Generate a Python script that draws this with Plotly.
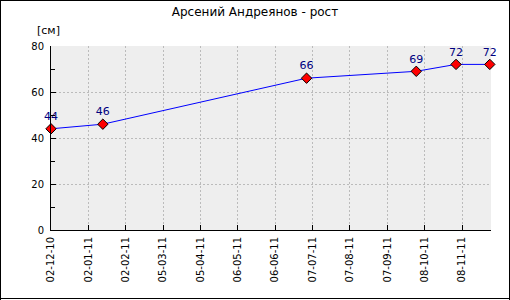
import plotly.graph_objects as go

dates = ["2010-12-02", "2011-01-14", "2011-07-02", "2011-10-01", "2011-11-03", "2011-12-01"]
heights = [44, 46, 66, 69, 72, 72]
title = "Арсений Андреянов - рост"
unit = "[см]"

W, H = 510, 300
L, R, T, B = 51, 19, 46, 70
pw, ph = W - L - R, H - T - B


def px_x(p):
    return (p - L) / pw


def px_y(p):
    return (H - B - p) / ph


fig = go.Figure()
fig.add_trace(go.Scatter(
    x=dates, y=heights, mode="lines+markers+text",
    text=[str(v) for v in heights], textposition="top center",
    textfont=dict(family="DejaVu Sans", size=11, color="#000080"),
    line=dict(color="#0000ff", width=1),
    marker=dict(symbol="diamond", size=8, color="#ff0000", line=dict(color="#000000", width=1)),
    cliponaxis=False, showlegend=False,
))

border = dict(color="#000000", width=1)
fig.update_layout(
    width=W, height=H,
    margin=dict(l=L, r=R, t=T, b=B),
    paper_bgcolor="#ffffff", plot_bgcolor="#eeeeee",
    font=dict(family="DejaVu Sans", size=11, color="#000000"),
    title=dict(text=title, x=0.5, xanchor="center", y=1 - 12 / H, yanchor="middle",
               font=dict(family="DejaVu Sans", size=12, color="#000000")),
    xaxis=dict(
        type="date", range=["2010-12-02", "2011-12-02"],
        tick0="2010-12-02", dtick=31 * 86400000, tickformat="%d-%m-%y",
        tickangle=-90, ticks="inside", ticklen=5, tickcolor="#000000",
        showgrid=True, gridcolor="#bbbbbb", griddash="2px,2px", gridwidth=1,
        showline=True, linecolor="#000000", linewidth=1, zeroline=False,
        tickfont=dict(family="DejaVu Sans", size=10, color="#000000"),
        ticklabelstandoff=2,
    ),
    yaxis=dict(
        range=[0, 80], tick0=0, dtick=20,
        ticks="inside", ticklen=5, tickcolor="#000000",
        minor=dict(dtick=10, ticks="inside", ticklen=4, tickcolor="#000000", showgrid=False),
        showgrid=True, gridcolor="#bbbbbb", griddash="2px,2px", gridwidth=1,
        showline=True, linecolor="#000000", linewidth=1, zeroline=False,
        tickfont=dict(family="DejaVu Sans", size=10, color="#000000"),
        ticklabelstandoff=4,
    ),
    shapes=[
        dict(type="line", xref="paper", yref="paper", x0=px_x(0), x1=px_x(W), y0=px_y(0.5), y1=px_y(0.5), line=border),
        dict(type="line", xref="paper", yref="paper", x0=px_x(0), x1=px_x(W), y0=px_y(298.5), y1=px_y(298.5), line=border),
        dict(type="line", xref="paper", yref="paper", x0=px_x(0.5), x1=px_x(0.5), y0=px_y(0), y1=px_y(H), line=border),
        dict(type="line", xref="paper", yref="paper", x0=px_x(W - 0.5), x1=px_x(W - 0.5), y0=px_y(0), y1=px_y(H), line=border),
    ],
    annotations=[dict(
        text=unit, xref="paper", yref="paper",
        x=px_x(48), y=px_y(31), xanchor="center", yanchor="middle",
        showarrow=False, font=dict(family="DejaVu Sans", size=11, color="#000000"),
    )],
)

fig.write_html("out.html")
